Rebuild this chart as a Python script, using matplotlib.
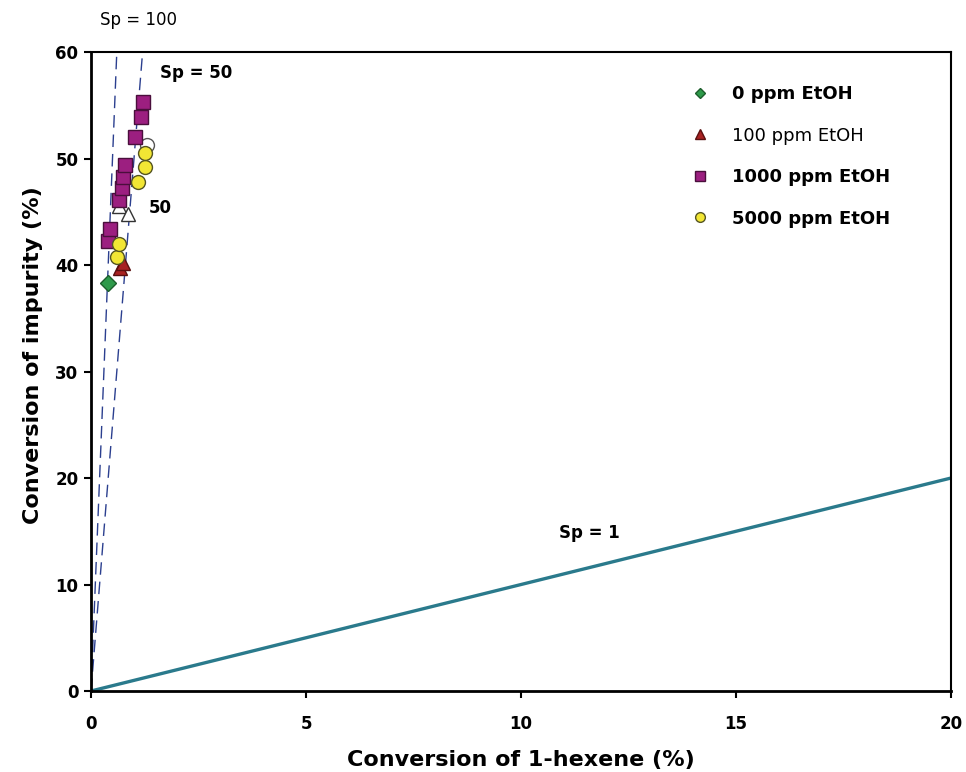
import numpy as np
import matplotlib.pyplot as plt

plt.rcParams['font.family'] = ['DejaVu Sans']

# conversion data: 1-hexene (x) vs impurity (y), %
x_0ppm = [0.40]
y_0ppm = [38.3]

x_100ppm = [0.67, 0.75]
y_100ppm = [39.7, 40.2]

x_100ppm_open = [0.64, 0.87]
y_100ppm_open = [45.5, 44.8]

x_1000ppm = [0.40, 0.44, 0.66, 0.71, 0.74, 0.79, 1.02, 1.16, 1.20]
y_1000ppm = [42.3, 43.4, 46.1, 47.2, 48.3, 49.4, 52.0, 53.9, 55.3]

x_5000ppm = [0.60, 0.64, 1.10, 1.26, 1.26]
y_5000ppm = [40.8, 42.0, 47.8, 49.2, 50.5]

x_5000ppm_open = [1.31]
y_5000ppm_open = [51.3]

# selectivity reference lines (y = Sp * x)
sp_values = [100, 50]
sp_one = 1

fig = plt.figure(figsize=(9.66, 7.72), dpi=100)
ax = fig.add_axes([0.0942, 0.1049, 0.8903, 0.8277])

xx = np.array([0, 20])
for sp in sp_values:
    ax.plot(xx, sp * xx, color='#2b3f8f', lw=1.0, ls=(0, (9, 5)), zorder=1)
ax.plot(xx, sp_one * xx, color='#2a7a8c', lw=2.4, zorder=1)

ax.plot(x_0ppm, y_0ppm, 'D', ms=8, mfc='#2e9a4a', mec='#1d5e2c',
        label='0 ppm EtOH', zorder=3)
ax.plot(x_100ppm, y_100ppm, '^', ms=10, mfc='#a82222', mec='#5a1010',
        label='100 ppm EtOH', zorder=3)
ax.plot(x_100ppm_open, y_100ppm_open, '^', ms=10, mfc='white', mec='#333333',
        zorder=2)
ax.plot(x_1000ppm, y_1000ppm, 's', ms=10, mfc='#9c1f80', mec='#4a0f3c',
        label='1000 ppm EtOH', zorder=3)
ax.plot(x_5000ppm, y_5000ppm, 'o', ms=10, mfc='#f2e634', mec='#555522',
        label='5000 ppm EtOH', zorder=4)
ax.plot(x_5000ppm_open, y_5000ppm_open, 'o', ms=10, mfc='white', mec='#555555',
        ls='none', zorder=2)

ax.set_xlim(0, 20)
ax.set_ylim(0, 60)
ax.set_xticks([0, 5, 10, 15, 20])
ax.set_yticks([0, 10, 20, 30, 40, 50, 60])
ax.tick_params(direction='out', length=5, width=1.5, labelsize=12)
ax.tick_params(axis='x', pad=12)
ax.tick_params(axis='y', pad=4)
for lab in ax.get_xticklabels() + ax.get_yticklabels():
    lab.set_fontweight('bold')
for side in ['left', 'bottom']:
    ax.spines[side].set_linewidth(2)
for side in ['top', 'right']:
    ax.spines[side].set_linewidth(1.5)

ax.set_xlabel('Conversion of 1-hexene (%)', fontsize=16, fontweight='bold')
ax.set_ylabel('Conversion of impurity (%)', fontsize=16, fontweight='bold')
ax.xaxis.set_label_coords(0.5, -0.093)
ax.yaxis.set_label_coords(-0.056, 0.525)

ax.text(1.1, 63.0, 'Sp = 100', fontsize=12, ha='center', va='center',
        clip_on=False)
ax.text(2.45, 58.0, 'Sp = 50', fontsize=12, fontweight='bold', ha='center',
        va='center')
ax.text(1.6, 45.4, '50', fontsize=12, fontweight='bold', ha='center',
        va='center')
ax.text(11.6, 14.8, 'Sp = 1', fontsize=12, fontweight='bold', ha='center',
        va='center')

leg = ax.legend(loc='upper left', bbox_to_anchor=(0.687, 0.962), frameon=False,
                fontsize=13, labelspacing=1.3, handletextpad=1.3,
                handlelength=1.0, borderpad=0, markerscale=0.7)
for t, w in zip(leg.get_texts(), ['bold', 'normal', 'bold', 'bold']):
    t.set_fontweight(w)

fig.savefig('out.png', dpi=100)
